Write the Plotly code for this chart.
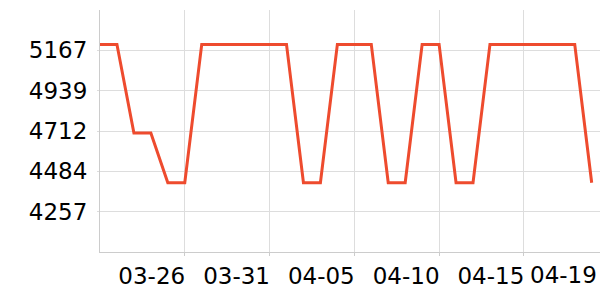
import plotly.graph_objects as go

dates = ["03-21", "03-22", "03-23", "03-24", "03-25", "03-26", "03-27", "03-28", "03-29", "03-30",
         "03-31", "04-01", "04-02", "04-03", "04-04", "04-05", "04-06", "04-07", "04-08", "04-09",
         "04-10", "04-11", "04-12", "04-13", "04-14", "04-15", "04-16", "04-17", "04-18", "04-19"]
values = [5200, 5200, 4700, 4700, 4420, 4420, 5200, 5200, 5200, 5200,
          5200, 5200, 4420, 4420, 5200, 5200, 5200, 4420, 4420, 5200,
          5200, 4420, 4420, 5200, 5200, 5200, 5200, 5200, 5200, 4420]
x_tick_labels = ["03-26", "03-31", "04-05", "04-10", "04-15"]
last_label = "04-19"
y_min, y_max = 4029.25, 5394.25
y_tick_vals = [4256.75, 4484.25, 4711.75, 4939.25, 5166.75]
y_tick_text = ["4257", "4484", "4712", "4939", "5167"]

font = dict(family="DejaVu Sans", size=23, color="#000000")

fig = go.Figure()
fig.add_trace(go.Scatter(
    x=dates, y=values, mode="lines",
    line=dict(color="#ee4b2e", width=3),
    hoverinfo="skip", showlegend=False,
))

fig.update_layout(
    width=600, height=300,
    margin=dict(l=100, r=0, t=10, b=48),
    paper_bgcolor="white", plot_bgcolor="white",
    font=font,
    xaxis=dict(
        type="category",
        range=[0, 29.49],
        tickmode="array", tickvals=x_tick_labels, ticktext=x_tick_labels,
        showgrid=True, gridcolor="#dddddd", gridwidth=1,
        showline=True, linecolor="#cccccc", linewidth=1,
        ticks="outside", ticklen=3, tickcolor="#cccccc",
        ticklabelshift=-33,
        tickfont=font,
        zeroline=False, fixedrange=True,
    ),
    yaxis=dict(
        range=[y_min, y_max],
        tickmode="array", tickvals=y_tick_vals, ticktext=y_tick_text,
        showgrid=True, gridcolor="#dddddd", gridwidth=1,
        showline=True, linecolor="#cccccc", linewidth=1,
        ticks="outside", ticklen=2, tickcolor="#dddddd",
        ticklabelstandoff=5,
        tickfont=font,
        zeroline=False, fixedrange=True,
    ),
    annotations=[dict(
        x=last_label, y=0, xref="x", yref="paper",
        text=last_label, showarrow=False,
        xanchor="right", yanchor="top", xshift=7, yshift=-8,
        font=font,
    )],
)

fig.write_html("out.html")
